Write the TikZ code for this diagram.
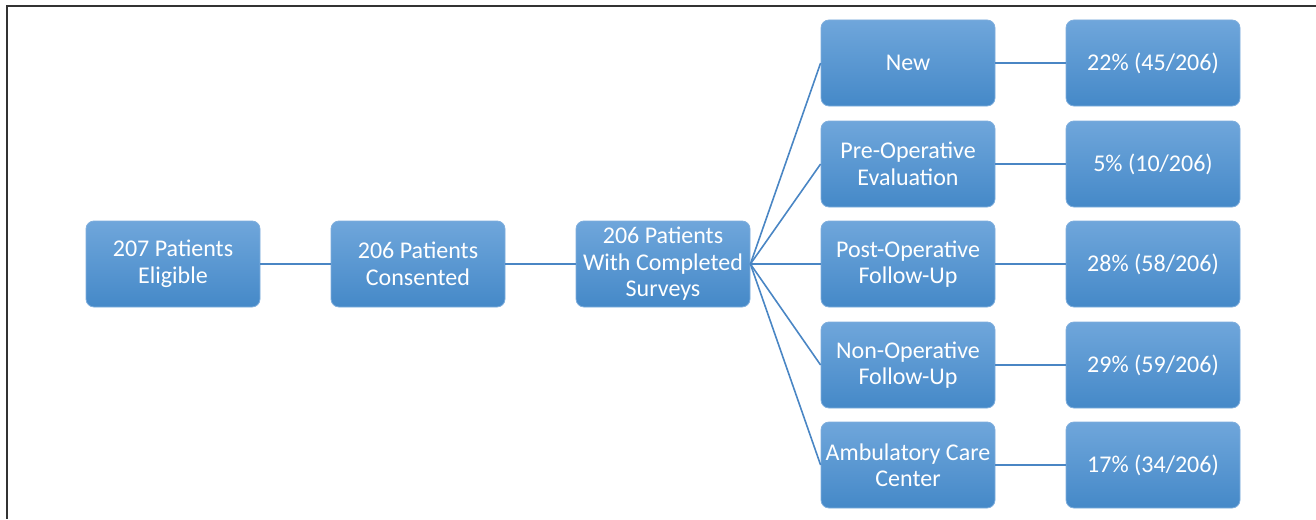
\documentclass[tikz,border=0pt]{standalone}
\usepackage{fontspec}
\setmainfont{Carlito}
\begin{document}
\begin{tikzpicture}[x=1pt,y=-1pt,
  box/.style={rounded corners=8pt, minimum width=174pt, minimum height=86pt,
    top color=boxtop, bottom color=boxbot, draw=boxedge, line width=0.8pt,
    text=white, align=center, font=\fontsize{24}{26.5}\selectfont, inner sep=0pt,
    execute at begin node={\vspace*{5pt}}},
  link/.style={draw=linkc, line width=1.6pt}]
\definecolor{boxtop}{HTML}{6FA6DB}
\definecolor{boxbot}{HTML}{4589C8}
\definecolor{boxedge}{HTML}{7FAEDD}
\definecolor{linkc}{HTML}{4A86C4}
\definecolor{framec}{HTML}{333333}
\useasboundingbox (0,0) rectangle (1316,519);
% frame lines along the top and left edges
\draw[framec, line width=2pt] (1316,6) -- (7,6) -- (7,519);
% main chain
\node[box] (elig) at (173,264) {207 Patients\\Eligible};
\node[box] (cons) at (418,264) {206 Patients\\Consented};
\node[box] (surv) at (663,264) {206 Patients\\With Completed\\Surveys};
% visit types
\node[box] (new)  at (908,63)  {New};
\node[box] (pre)  at (908,164) {Pre-Operative\\Evaluation};
\node[box] (post) at (908,264) {Post-Operative\\Follow-Up};
\node[box] (non)  at (908,365) {Non-Operative\\Follow-Up};
\node[box] (amb)  at (908,465) {Ambulatory Care\\Center};
% shares
\node[box] (pnew)  at (1153,63)  {22\% (45/206)};
\node[box] (ppre)  at (1153,164) {5\% (10/206)};
\node[box] (ppost) at (1153,264) {28\% (58/206)};
\node[box] (pnon)  at (1153,365) {29\% (59/206)};
\node[box] (pamb)  at (1153,465) {17\% (34/206)};
% connectors
\draw[link] (elig.east) -- (cons.west);
\draw[link] (cons.east) -- (surv.west);
\foreach \t in {new,pre,post,non,amb} \draw[link] (surv.east) -- (\t.west);
\draw[link] (new.east) -- (pnew.west);
\draw[link] (pre.east) -- (ppre.west);
\draw[link] (post.east) -- (ppost.west);
\draw[link] (non.east) -- (pnon.west);
\draw[link] (amb.east) -- (pamb.west);
\end{tikzpicture}
\end{document}
